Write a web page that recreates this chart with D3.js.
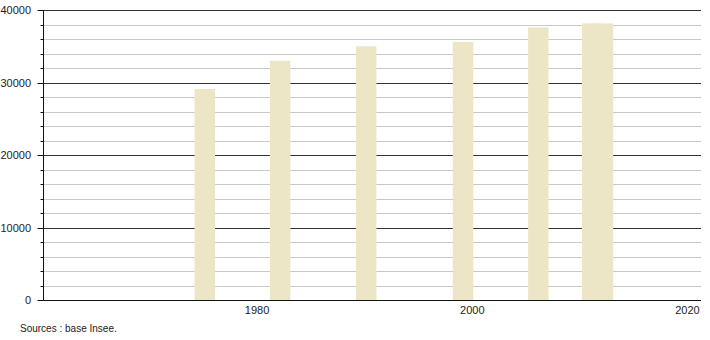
<!DOCTYPE html>
<html><head><meta charset="utf-8">
<script src="https://cdn.jsdelivr.net/npm/d3@7"></script>
<style>body{margin:0;background:#fff;}svg{display:block;font-family:"Liberation Sans",Arial,sans-serif;}</style>
</head><body>
<svg id="c" width="710" height="340"></svg>
<script>
const years = [1975, 1982, 1990, 1999, 2006, 2011, 2012];
const values = [29100, 33000, 35000, 35600, 37600, 38150, 38150];
const yMajorTicks = [0, 10000, 20000, 30000, 40000];
const xTicks = [1980, 2000, 2020];
const sourceText = "Sources : base Insee.";

const svg = d3.select("#c");
const x = d3.scaleLinear().domain([1980, 2020]).range([257.1, 687.5]);
const y = d3.scaleLinear().domain([0, 40000]).range([300, 10]);
const left = 43.5, right = 701;
const barW = 20.5;
const barShift = 1.5;

const minor = d3.range(0, 40001, 2000).filter(v => v % 10000 !== 0);
svg.append("g").selectAll("line").data(minor).join("line")
  .attr("x1", left).attr("x2", right)
  .attr("y1", d => Math.round(y(d)) + 0.5).attr("y2", d => Math.round(y(d)) + 0.5)
  .attr("stroke", "#c8c8c8").attr("stroke-width", 1);
svg.append("g").selectAll("line").data(yMajorTicks.filter(v => v > 0)).join("line")
  .attr("x1", left).attr("x2", right)
  .attr("y1", d => Math.round(y(d)) + 0.5).attr("y2", d => Math.round(y(d)) + 0.5)
  .attr("stroke", "#333").attr("stroke-width", 1);

svg.append("g").selectAll("rect").data(years).join("rect")
  .attr("x", d => x(d) - barW / 2 + barShift).attr("width", barW)
  .attr("y", (d, i) => y(values[i])).attr("height", (d, i) => y(0) - y(values[i]))
  .attr("fill", "#ece6c7");

// y axis
const ya = svg.append("g");
ya.append("line").attr("x1", left).attr("x2", left).attr("y1", 10).attr("y2", 300.5)
  .attr("stroke", "#111").attr("stroke-width", 1);
ya.selectAll("line.mi").data(minor).join("line").attr("class", "mi")
  .attr("x1", left - 3).attr("x2", left)
  .attr("y1", d => Math.round(y(d)) + 0.5).attr("y2", d => Math.round(y(d)) + 0.5)
  .attr("stroke", "#111");
ya.selectAll("line.ma").data(yMajorTicks).join("line").attr("class", "ma")
  .attr("x1", left - 6).attr("x2", left)
  .attr("y1", d => Math.round(y(d)) + 0.5).attr("y2", d => Math.round(y(d)) + 0.5)
  .attr("stroke", "#111");
ya.selectAll("text").data(yMajorTicks).join("text")
  .attr("x", 31).attr("y", d => y(d) + 4)
  .attr("text-anchor", "end").attr("font-size", 11).attr("fill", "#222")
  .text(d => d);

// x axis
svg.append("line").attr("x1", left).attr("x2", right).attr("y1", 300.5).attr("y2", 300.5)
  .attr("stroke", "#111").attr("stroke-width", 1);
svg.append("g").selectAll("text").data(xTicks).join("text")
  .attr("x", d => x(d)).attr("y", 314)
  .attr("text-anchor", "middle").attr("font-size", 11).attr("fill", "#222")
  .text(d => d);

svg.append("text").attr("x", 20).attr("y", 332).attr("font-size", 10).attr("fill", "#222")
  .text(sourceText);
</script>
</body></html>
